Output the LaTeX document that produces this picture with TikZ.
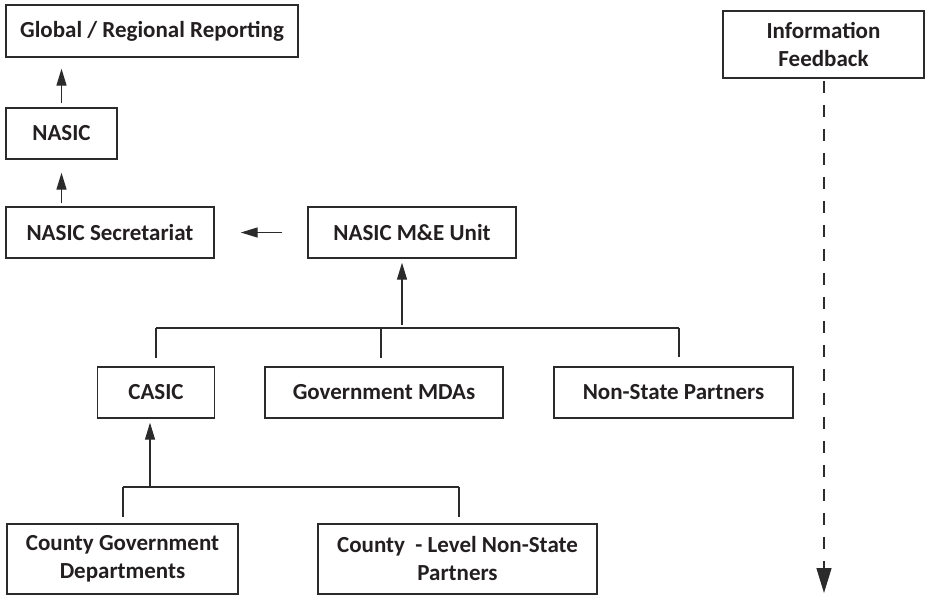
\documentclass[tikz,border=0pt]{standalone}
\usepackage{fontspec}
\setmainfont{Carlito}
\usetikzlibrary{arrows.meta,calc}
\definecolor{txtc}{HTML}{231F20}
\definecolor{linec}{HTML}{2B2B2B}
\begin{document}
\begin{tikzpicture}[x=1pt,y=1pt,
 box/.style={draw=linec, line width=1.4pt, inner sep=0pt, align=center,
   font=\fontsize{23}{28}\selectfont\bfseries, text=txtc},
 conn/.style={draw=linec, line width=1.4pt},
 arr/.style={conn, -{Triangle[length=17pt,width=10pt]}},
 darr/.style={conn, dash pattern=on 12pt off 12pt, -{Triangle[length=25pt,width=15pt]}}]
\useasboundingbox (0,0) rectangle (927,-595);
\node[box, minimum width=292pt, minimum height=52pt] (glob) at (152,-31) {Global / Regional Reporting};
\node[box, minimum width=111pt, minimum height=51pt] (nasic) at (61.5,-133.5) {NASIC};
\node[box, minimum width=208pt, minimum height=51pt] (sec) at (110,-232.5) {NASIC Secretariat};
\node[box, minimum width=208pt, minimum height=51pt] (me) at (412,-232.5) {NASIC M\&E Unit};
\node[box, minimum width=117pt, minimum height=51pt] (casic) at (156,-392.5) {CASIC};
\node[box, minimum width=238pt, minimum height=51pt] (mda) at (384,-392.5) {Government MDAs};
\node[box, minimum width=239pt, minimum height=51pt] (nsp) at (673.5,-392.5) {Non-State Partners};
\node[box, minimum width=231pt, minimum height=70pt] (cgd) at (122.5,-559) {County Government\\Departments};
\node[box, minimum width=279pt, minimum height=70pt] (cln) at (457.5,-559) {County\ \ - Level Non-State\\Partners};
\node[box, minimum width=201pt, minimum height=67pt] (info) at (823.5,-44.5) {Information\\Feedback};
% upper arrows
\draw[arr] ($(nasic.north)+(0,4)$) -- ($(nasic.north |- glob.south)+(0,-11)$);
\draw[arr] ($(nasic.south |- sec.north)+(0,3)$) -- ($(nasic.south)+(0,-13)$);
\draw[arr] ($(me.west)+(-25,0)$) -- ($(sec.east)+(26,0)$);
% middle bus
\coordinate (bL) at (156,-328);
\coordinate (bM) at (381,-328);
\coordinate (bR) at (679,-328);
\coordinate (bA) at (402,-328);
\draw[conn] (bL) -- (bR);
\draw[conn] (bL) -- ($(casic.north)+(0,8)$);
\draw[conn] (bM) -- ($(bM |- mda.north)+(0,8)$);
\draw[conn] (bR) -- ($(bR |- nsp.north)+(0,9)$);
\draw[arr] ($(bA)+(0,3)$) -- ($(bA |- me.south)+(0,-4)$);
% lower bus
\coordinate (cL) at (123,-487);
\coordinate (cR) at (459,-487);
\coordinate (cA) at (150,-487);
\draw[conn] (cL) -- (cR);
\draw[conn] (cL) -- ($(cL |- cgd.north)+(0,6)$);
\draw[conn] (cR) -- ($(cR |- cln.north)+(0,6)$);
\draw[arr] (cA) -- ($(cA |- casic.south)+(0,-4)$);
% feedback
\coordinate (fb) at (824,-593);
\draw[darr] ($(info.south)+(0.5,-2)$) -- (fb);
\end{tikzpicture}
\end{document}
